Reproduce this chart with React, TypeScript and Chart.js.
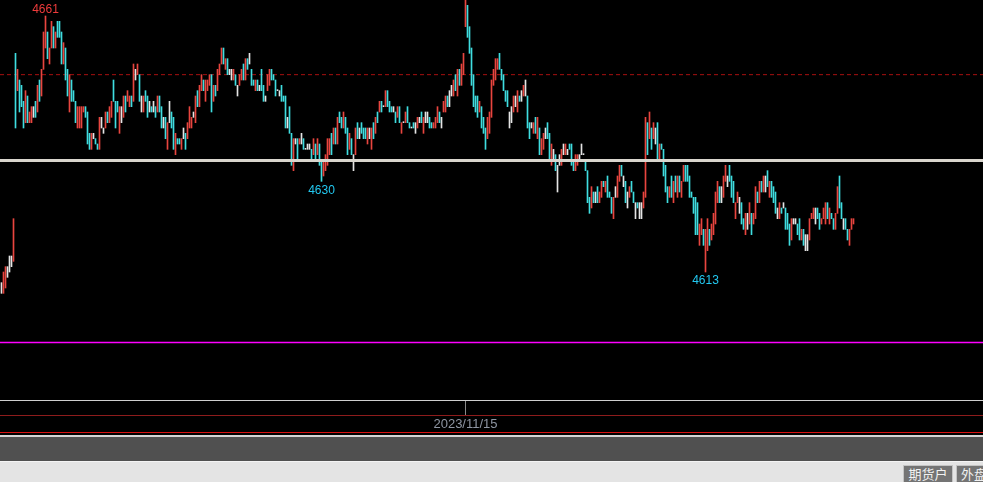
import React, { useEffect, useRef } from "react";
import { Chart, registerables } from "chart.js";

Chart.register(...registerables);

// ---- data ----
const highs = [
  4611, 4613, 4614, 4614, 4616, 4616, 4623, 4654, 4651, 4649,
  4648, 4645, 4647, 4646, 4643, 4644, 4644, 4645, 4648, 4649,
  4651, 4658, 4661, 4658, 4655, 4660, 4659, 4658, 4660, 4660,
  4658, 4656, 4655, 4651, 4650, 4649, 4647, 4645, 4644, 4644,
  4644, 4644, 4644, 4643, 4639, 4639, 4639, 4638, 4637, 4642,
  4642, 4640, 4643, 4643, 4644, 4645, 4649, 4645, 4645, 4644,
  4644, 4646, 4646, 4647, 4646, 4646, 4652, 4651, 4652, 4650,
  4646, 4646, 4647, 4646, 4645, 4644, 4645, 4644, 4646, 4646,
  4644, 4642, 4642, 4641, 4645, 4643, 4642, 4639, 4638, 4638,
  4638, 4640, 4639, 4641, 4644, 4642, 4643, 4646, 4647, 4648,
  4650, 4649, 4649, 4649, 4650, 4650, 4648, 4648, 4651, 4652,
  4655, 4655, 4653, 4653, 4651, 4651, 4651, 4650, 4648, 4650,
  4651, 4652, 4653, 4653, 4654, 4651, 4649, 4649, 4649, 4648,
  4651, 4648, 4646, 4650, 4651, 4651, 4650, 4649, 4647, 4647,
  4648, 4646, 4646, 4642, 4644, 4639, 4638, 4638, 4638, 4638,
  4639, 4638, 4636, 4637, 4637, 4636, 4638, 4637, 4638, 4637,
  4634, 4634, 4635, 4638, 4638, 4639, 4640, 4640, 4642, 4643,
  4642, 4643, 4642, 4640, 4639, 4638, 4635, 4640, 4641, 4640,
  4641, 4640, 4640, 4640, 4640, 4640, 4641, 4642, 4643, 4645,
  4645, 4644, 4647, 4647, 4645, 4644, 4644, 4643, 4644, 4644,
  4641, 4641, 4643, 4644, 4641, 4640, 4641, 4641, 4642, 4642,
  4643, 4642, 4643, 4643, 4642, 4641, 4641, 4642, 4644, 4643,
  4642, 4645, 4646, 4646, 4647, 4648, 4649, 4650, 4651, 4651,
  4652, 4654, 4664, 4663, 4659, 4655, 4650, 4646, 4646, 4645,
  4644, 4642, 4640, 4642, 4643, 4649, 4651, 4653, 4653, 4654,
  4651, 4650, 4647, 4647, 4643, 4644, 4646, 4646, 4647, 4646,
  4647, 4648, 4649, 4646, 4641, 4641, 4641, 4642, 4642, 4640,
  4638, 4639, 4640, 4641, 4639, 4637, 4636, 4635, 4633, 4635,
  4636, 4637, 4637, 4636, 4637, 4637, 4634, 4635, 4635, 4635,
  4637, 4635, 4634, 4632, 4627, 4629, 4628, 4628, 4629, 4628,
  4630, 4630, 4630, 4631, 4628, 4627, 4627, 4629, 4631, 4633,
  4633, 4631, 4630, 4628, 4629, 4630, 4628, 4626, 4626, 4626,
  4626, 4628, 4642, 4641, 4643, 4640, 4641, 4640, 4641, 4637,
  4637, 4636, 4633, 4629, 4629, 4631, 4630, 4631, 4631, 4631,
  4630, 4633, 4633, 4633, 4631, 4628, 4627, 4627, 4626, 4622,
  4623, 4621, 4621, 4623, 4621, 4622, 4624, 4628, 4630, 4629,
  4629, 4631, 4633, 4631, 4633, 4631, 4630, 4626, 4628, 4627,
  4626, 4623, 4624, 4624, 4626, 4624, 4624, 4629, 4628, 4630,
  4630, 4631, 4631, 4632, 4630, 4630, 4629, 4628, 4625, 4626,
  4625, 4626, 4625, 4624, 4622, 4623, 4623, 4623, 4622, 4623,
  4621, 4621, 4620, 4620, 4623, 4624, 4625, 4625, 4625, 4624,
  4623, 4625, 4626, 4626, 4625, 4624, 4623, 4624, 4629, 4631,
  4626, 4623, 4623, 4621, 4621, 4623, 4623,
];

const lows = [
  4609, 4609, 4610, 4612, 4613, 4614, 4615, 4640, 4647, 4643,
  4644, 4640, 4641, 4641, 4641, 4641, 4642, 4642, 4643, 4645,
  4646, 4651, 4655, 4653, 4652, 4655, 4655, 4655, 4657, 4657,
  4652, 4652, 4649, 4646, 4643, 4645, 4645, 4641, 4640, 4640,
  4640, 4643, 4642, 4637, 4636, 4636, 4638, 4637, 4636, 4636,
  4640, 4639, 4640, 4641, 4641, 4642, 4645, 4640, 4643, 4639,
  4641, 4642, 4643, 4645, 4644, 4644, 4645, 4649, 4650, 4645,
  4643, 4643, 4645, 4642, 4643, 4643, 4643, 4642, 4643, 4643,
  4640, 4640, 4638, 4636, 4641, 4640, 4636, 4635, 4637, 4637,
  4636, 4638, 4636, 4638, 4640, 4640, 4642, 4641, 4644, 4644,
  4647, 4647, 4645, 4647, 4648, 4643, 4645, 4646, 4647, 4650,
  4652, 4652, 4651, 4650, 4650, 4649, 4649, 4648, 4646, 4648,
  4649, 4649, 4649, 4651, 4652, 4648, 4648, 4647, 4647, 4647,
  4647, 4645, 4645, 4647, 4648, 4649, 4649, 4646, 4647, 4646,
  4645, 4645, 4640, 4640, 4639, 4633, 4632, 4637, 4634, 4637,
  4637, 4636, 4636, 4636, 4636, 4634, 4635, 4634, 4635, 4633,
  4630, 4631, 4632, 4633, 4635, 4635, 4637, 4637, 4637, 4641,
  4640, 4640, 4639, 4635, 4636, 4635, 4632, 4635, 4638, 4638,
  4639, 4638, 4638, 4637, 4638, 4636, 4638, 4639, 4641, 4643,
  4643, 4644, 4644, 4644, 4643, 4643, 4643, 4641, 4642, 4641,
  4639, 4641, 4641, 4641, 4640, 4640, 4640, 4639, 4640, 4641,
  4641, 4639, 4641, 4641, 4640, 4640, 4640, 4640, 4641, 4641,
  4640, 4643, 4643, 4644, 4644, 4646, 4646, 4647, 4646, 4648,
  4648, 4650, 4659, 4657, 4654, 4648, 4644, 4643, 4642, 4643,
  4640, 4639, 4636, 4638, 4639, 4642, 4648, 4649, 4651, 4651,
  4649, 4647, 4645, 4644, 4640, 4641, 4643, 4644, 4643, 4645,
  4645, 4646, 4646, 4640, 4638, 4640, 4639, 4639, 4638, 4635,
  4635, 4636, 4638, 4638, 4634, 4633, 4634, 4632, 4628, 4633,
  4633, 4635, 4635, 4635, 4636, 4633, 4632, 4632, 4633, 4634,
  4635, 4635, 4632, 4626, 4624, 4625, 4626, 4626, 4626, 4626,
  4627, 4629, 4628, 4627, 4627, 4624, 4623, 4627, 4627, 4630,
  4631, 4629, 4626, 4625, 4627, 4628, 4626, 4623, 4625, 4623,
  4623, 4625, 4627, 4635, 4638, 4636, 4638, 4637, 4634, 4634,
  4636, 4631, 4628, 4626, 4627, 4627, 4626, 4628, 4627, 4628,
  4627, 4630, 4630, 4630, 4627, 4627, 4624, 4620, 4620, 4618,
  4620, 4618, 4613, 4617, 4618, 4619, 4620, 4622, 4626, 4626,
  4626, 4627, 4630, 4629, 4630, 4627, 4626, 4623, 4626, 4624,
  4622, 4621, 4620, 4621, 4622, 4620, 4622, 4623, 4626, 4626,
  4628, 4628, 4628, 4629, 4627, 4627, 4626, 4624, 4623, 4623,
  4624, 4625, 4621, 4621, 4618, 4619, 4622, 4622, 4620, 4619,
  4619, 4618, 4617, 4617, 4619, 4623, 4623, 4622, 4623, 4621,
  4622, 4623, 4622, 4623, 4622, 4623, 4621, 4621, 4624, 4625,
  4623, 4621, 4621, 4619, 4618, 4621, 4622,
];

// 1 = close above open (red), -1 = close below open (cyan), 0 = unchanged (white)
const dirs = [
  0, 1, 1, 0, 0, 0, 1, -1, 1, -1,
  -1, -1, 1, -1, 1, 1, 0, -1, 1, -1,
  1, 1, 1, -1, 1, 1, -1, 1, -1, -1,
  -1, 1, -1, -1, 1, -1, -1, -1, 1, 1,
  1, 1, -1, -1, -1, 1, 0, -1, -1, 1,
  0, 0, 1, -1, 1, 1, -1, -1, -1, 1,
  0, 1, -1, 1, 1, -1, 1, 0, 1, -1,
  0, 1, -1, -1, 0, -1, 0, -1, 1, -1,
  -1, 0, -1, 1, 0, -1, -1, 1, -1, -1,
  1, 0, -1, 1, 1, 1, 0, 1, -1, 1,
  1, -1, 1, 1, 1, -1, 1, -1, 1, 1,
  1, -1, 1, -1, 0, 0, 1, -1, 0, 1,
  1, -1, 1, -1, 0, -1, -1, 1, -1, 0,
  -1, -1, 0, 1, 1, -1, -1, -1, 0, 0,
  -1, -1, -1, 0, -1, -1, 1, 0, -1, 1,
  0, -1, 0, 0, 0, -1, 1, -1, 1, -1,
  -1, 1, 1, 1, 1, -1, 1, -1, 1, -1,
  -1, 1, -1, -1, 1, -1, 0, 1, -1, 0,
  -1, -1, -1, 1, 0, 1, -1, 1, -1, 1,
  -1, 0, 1, -1, -1, -1, 0, -1, 1, -1,
  1, 0, 1, -1, -1, 0, -1, 0, 1, 0,
  -1, 1, 0, 0, -1, -1, 1, 1, 1, -1,
  0, 1, 1, -1, 0, 0, 1, -1, 1, -1,
  1, 1, 1, -1, -1, -1, -1, -1, -1, 1,
  -1, -1, -1, 1, 1, 1, 1, 1, 1, -1,
  -1, -1, -1, -1, 0, 0, 1, 0, 1, -1,
  0, 1, 0, -1, -1, 0, 1, -1, 1, -1,
  1, 1, 0, -1, -1, 1, 0, -1, 0, 0,
  1, 0, 1, 0, -1, -1, -1, 1, 1, 0,
  0, 0, -1, -1, -1, 1, -1, 0, -1, 1,
  1, -1, 1, -1, -1, -1, 1, 0, 1, 1,
  -1, 0, -1, 0, 1, -1, -1, 0, -1, 0,
  0, 1, 1, -1, 1, -1, 1, 0, -1, 1,
  -1, -1, -1, -1, 1, -1, 1, -1, 1, -1,
  1, 1, -1, -1, -1, -1, -1, -1, -1, 1,
  1, -1, 1, 1, -1, 1, 1, 1, 1, -1,
  0, 1, 1, 0, -1, -1, -1, 1, 1, 0,
  -1, -1, 1, 0, 1, -1, 1, 1, -1, 1,
  -1, 1, 0, -1, 1, -1, -1, -1, 0, 1,
  -1, 0, -1, -1, -1, 1, 0, 0, -1, -1,
  1, -1, 0, 0, 1, 1, 1, 0, -1, -1,
  1, 1, 1, -1, 1, -1, -1, 1, 1, -1,
  -1, 0, -1, -1, 1, 1, 1,
];

// extreme-value annotations: bar index and which end is marked
const markIdx = [22, 160, 352];
const markSide = ["high", "low", "low"];

// time axis
const dateTickIdx = 232;
const dateTickLabel = "2023/11/15";

// horizontal reference levels
const levelWhite = 4633.9;
const levelDash = 4650;
const levelMagenta = 4599.8;

// visible ranges
const yTop = 4664;
const yBottom = 4589;
const xMin = -0.75;
const xMax = 490.75;

const RED = "#e8453f";
const CYAN = "#3fdde0";
const WHITE = "#e4e4e4";

export default function App() {
  const ref = useRef<HTMLCanvasElement | null>(null);

  useEffect(() => {
    const colorOf = (d: number) => (d > 0 ? RED : d < 0 ? CYAN : WHITE);
    const barData = highs.map((h, i) => ({ x: i, y: [lows[i], h] }));
    const hline = (v: number) => [
      { x: xMin, y: v },
      { x: xMax, y: v },
    ];

    const markPlugin = {
      id: "marks",
      afterDatasetsDraw(chart: any) {
        const { ctx, scales } = chart;
        const xs = scales.x;
        const ys = scales.y;
        ctx.save();
        ctx.font = '12px "Liberation Sans", Arial, sans-serif';
        ctx.textAlign = "center";
        markIdx.forEach((idx, k) => {
          const isHigh = markSide[k] === "high";
          const v = isHigh ? highs[idx] : lows[idx];
          const px = xs.getPixelForValue(idx);
          const py = ys.getPixelForValue(v);
          ctx.fillStyle = isHigh ? "#ee3b3b" : "#22c8f0";
          if (isHigh) {
            ctx.textBaseline = "alphabetic";
            ctx.fillText(String(v), px, py - 3);
          } else {
            ctx.textBaseline = "top";
            ctx.fillText(String(v), px, py + 3);
          }
        });
        ctx.restore();
      },
    };

    const chart = new Chart(ref.current as HTMLCanvasElement, {
      type: "bar",
      data: {
        datasets: [
          {
            type: "line",
            data: hline(levelWhite),
            borderColor: "#d9d5cd",
            borderWidth: 3,
            pointRadius: 0,
            order: 0,
          } as any,
          {
            type: "bar",
            data: barData as any,
            backgroundColor: (c: any) => colorOf(dirs[c.dataIndex]),
            barThickness: 1,
            minBarLength: 1,
            borderWidth: 0,
            order: 1,
          } as any,
          {
            type: "line",
            data: hline(levelDash),
            borderColor: "#a81010",
            borderDash: [4, 3],
            borderWidth: 1,
            pointRadius: 0,
            order: 2,
          } as any,
          {
            type: "line",
            data: hline(levelMagenta),
            borderColor: "#ff00ff",
            borderWidth: 1.5,
            pointRadius: 0,
            order: 2,
          } as any,
        ],
      },
      options: {
        responsive: false,
        maintainAspectRatio: false,
        animation: false,
        events: [],
        layout: { padding: 0 },
        plugins: {
          legend: { display: false },
          tooltip: { enabled: false },
        },
        scales: {
          x: {
            type: "linear",
            min: xMin,
            max: xMax,
            offset: false,
            position: "bottom",
            afterBuildTicks: (axis: any) => {
              axis.ticks = [{ value: dateTickIdx }];
            },
            afterFit: (axis: any) => {
              axis.height = 36;
            },
            ticks: {
              callback: () => dateTickLabel,
              color: "#8e95a2",
              font: { family: '"Liberation Sans", Arial, sans-serif', size: 13 },
              padding: 2,
              maxRotation: 0,
              autoSkip: false,
            },
            grid: {
              offset: false,
              drawOnChartArea: false,
              drawTicks: true,
              tickLength: 15,
              tickColor: "#8a8a8a",
              tickWidth: 1,
            },
            border: { display: true, color: "#cfcfcf", width: 1 },
          },
          y: {
            type: "linear",
            min: yBottom,
            max: yTop,
            display: false,
          },
        },
      } as any,
      plugins: [markPlugin],
    });

    return () => chart.destroy();
  }, []);

  const btn: React.CSSProperties = {
    position: "absolute",
    top: 465,
    height: 17,
    background: "#747474",
    border: "1px solid #c4c4c4",
    borderBottom: "none",
    color: "#f2f2f2",
    fontFamily: '"Noto Sans CJK SC", sans-serif',
    fontSize: 13,
    lineHeight: "16px",
    textAlign: "center",
    boxSizing: "border-box",
    overflow: "hidden",
    whiteSpace: "nowrap",
  };

  return (
    <div
      style={{
        position: "fixed",
        left: 0,
        top: 0,
        width: 983,
        height: 482,
        background: "#000",
        overflow: "hidden",
      }}
    >
      <canvas
        ref={ref}
        width={983}
        height={436}
        style={{ position: "absolute", left: 0, top: 0, width: 983, height: 436 }}
      />
      <div style={{ position: "absolute", left: 0, top: 415, width: 983, height: 1, background: "#8e1c1c" }} />
      <div style={{ position: "absolute", left: 0, top: 432, width: 983, height: 1, background: "#d81010" }} />
      <div style={{ position: "absolute", left: 0, top: 435, width: 983, height: 2, background: "#d6d6d6" }} />
      <div style={{ position: "absolute", left: 0, top: 437, width: 983, height: 24, background: "#505050" }} />
      <div style={{ position: "absolute", left: 0, top: 461, width: 983, height: 21, background: "#e4e4e4", borderTop: "1px solid #f4f4f4", boxSizing: "border-box" }} />
      <div style={{ ...btn, left: 903, width: 50 }}>期货户</div>
      <div style={{ ...btn, left: 956, width: 40, textAlign: "left", paddingLeft: 4 }}>外盘</div>
    </div>
  );
}
